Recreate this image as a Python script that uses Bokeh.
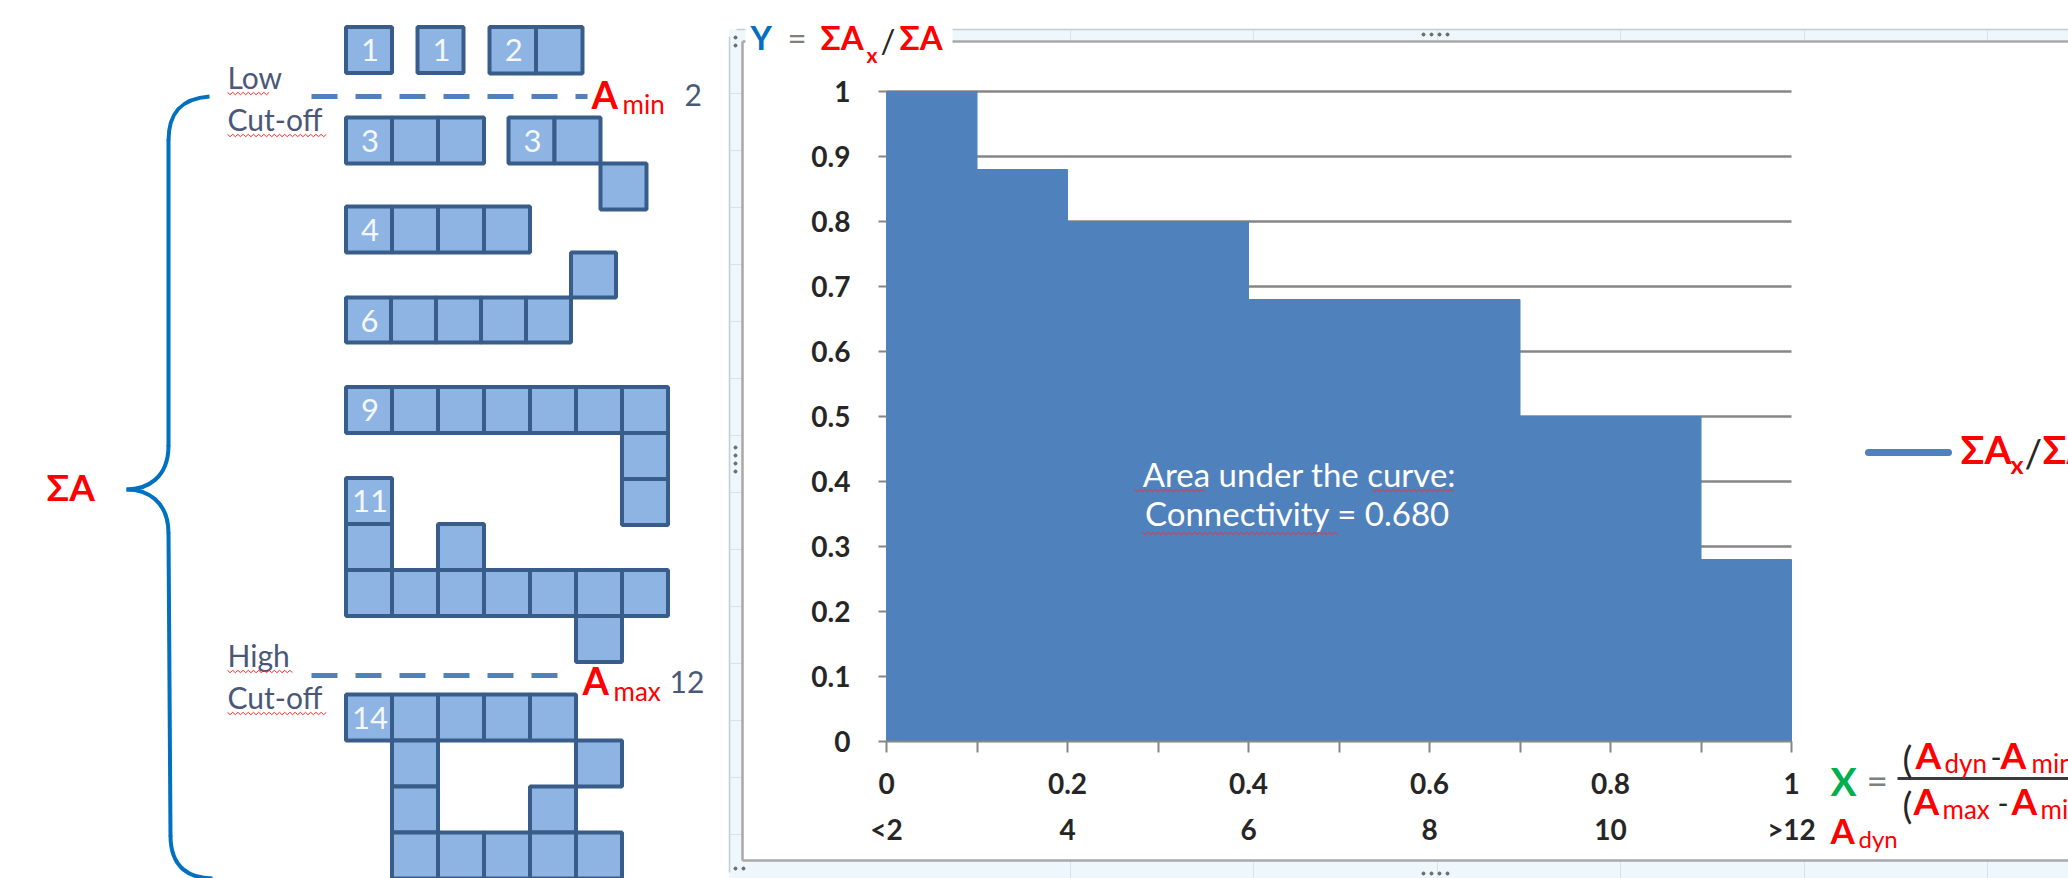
import numpy as np
from bokeh.plotting import figure
from bokeh.models import Range1d, LinearAxis, FixedTicker, NumeralTickFormatter
from bokeh.core.properties import value
from bokeh.embed import file_html
from bokeh.resources import INLINE

# ---------------- chart data ----------------
x_edges = [0.0, 0.1, 0.2, 0.4, 0.7, 0.9, 1.0]          # X = (Adyn-Amin)/(Amax-Amin)
area_ratio = [1.0, 0.88, 0.80, 0.68, 0.50, 0.28]        # Y = sum(Ax)/sum(A)
y_ticks = [0.0, 0.1, 0.2, 0.3, 0.4, 0.5, 0.6, 0.7, 0.8, 0.9, 1.0]
x_ticks = [0.0, 0.2, 0.4, 0.6, 0.8, 1.0]
x_minor = [0.1, 0.3, 0.5, 0.7, 0.9]
x_tick_labels = ["0", "0.2", "0.4", "0.6", "0.8", "1"]
adyn_labels = ["<2", "4", "6", "8", "10", ">12"]
connectivity = 0.680

# ---------------- cluster diagram data ----------------
cluster_sizes = ["1", "1", "2", "3", "3", "4", "6", "9", "11", "14"]
cluster_cells = [
    [(0, 0)],
    [(0, 0)],
    [(0, 0), (1, 0)],
    [(0, 0), (1, 0), (2, 0)],
    [(0, 0), (1, 0), (2, 1)],
    [(0, 0), (1, 0), (2, 0), (3, 0)],
    [(0, 1), (1, 1), (2, 1), (3, 1), (4, 1), (5, 0)],
    [(0, 0), (1, 0), (2, 0), (3, 0), (4, 0), (5, 0), (6, 0), (6, 1), (6, 2)],
    [(0, 0), (0, 1), (2, 1), (0, 2), (1, 2), (2, 2), (3, 2), (4, 2), (5, 2), (6, 2), (5, 3)],
    [(0, 0), (1, 0), (2, 0), (3, 0), (4, 0), (1, 1), (5, 1), (1, 2), (4, 2),
     (1, 3), (2, 3), (3, 3), (4, 3), (5, 3)],
]
# placement of each cluster on the page (px)
cluster_origin_x = [345.5, 417, 489, 345.5, 508, 345.5, 345.5, 345.5, 345.5, 345.5]
cluster_origin_y = [26.5, 26.5, 26.5, 117, 117, 206, 252, 386.5, 477.5, 694]
cluster_cell_px = [46, 46, 46.5, 46, 46, 46, 45, 46, 46, 46]

# ---------------- page geometry ----------------
PAGE_W, PAGE_H = 2068, 878
X0, X1 = 886.0, 1791.0     # page px of x=0 and x=1
Y0, Y1 = 741.0, 91.0       # page px of y=0 and y=1


def dx(px):
    return (np.asarray(px, dtype=float) - X0) / (X1 - X0)


def dy(py):
    return (Y0 - np.asarray(py, dtype=float)) / (Y0 - Y1)


p = figure(width=PAGE_W, height=PAGE_H,
           x_range=Range1d(float(dx(0)), float(dx(PAGE_W))),
           y_range=Range1d(float(dy(PAGE_H)), float(dy(0))),
           x_axis_type=None, y_axis_type=None,
           toolbar_location=None, output_backend="svg",
           min_border=0, outline_line_color=None,
           background_fill_color="white", border_fill_color="white")
p.min_border_left = p.min_border_right = p.min_border_top = p.min_border_bottom = 0

FONT = "Lato"


def putc(x, yc, s, size, color, style="normal", align="left", font=FONT):
    p.text(x=[float(dx(x))], y=[float(dy(yc))], text=[s], text_font=value(font),
           text_font_size="%dpx" % size, text_color=color, text_font_style=style,
           text_align=align, text_baseline="middle")


def put(x, yb, s, size, color, style="normal", align="left", font=FONT):
    # yb = wanted baseline (px); middle of the em box sits ~0.36 em above it
    putc(x, yb - 0.36 * size, s, size, color, style, align, font)


def seg(x0, y0, x1, y1, color, width, dash="solid", cap="butt"):
    p.segment(x0=[float(dx(x0))], y0=[float(dy(y0))], x1=[float(dx(x1))], y1=[float(dy(y1))],
              line_color=color, line_width=width, line_dash=dash, line_cap=cap)


def box(l, t, r, b, fill, line=None, lw=1):
    p.quad(left=[float(dx(l))], right=[float(dx(r))], top=[float(dy(t))], bottom=[float(dy(b))],
           fill_color=fill, line_color=line, line_width=lw)


def wavy(x0, x1, y):
    xs = np.arange(x0, x1 + 0.1, 2.6)
    ys = y + np.where(np.arange(len(xs)) % 2 == 0, -1.2, 1.2)
    p.line(x=dx(xs), y=dy(ys), line_color="#ff2a2a", line_width=1)


# ---------------- Excel chart frame ----------------
BAND = "#eef7fb"
box(729, 29, 2068, 41, BAND)
box(729, 29, 742, 878, BAND)
box(729, 860, 2068, 878, BAND)
for sx in [1070, 1253, 1437, 1620, 1804, 1987]:
    seg(sx, 30, sx, 41, "#d6e4ea", 1)
    seg(sx, 861, sx, 878, "#d6e4ea", 1)
for sy in np.arange(93, 860, 57):
    seg(730, sy, 742, sy, "#d6e4ea", 1)
seg(729, 36, 729, 872, "#c3ced4", 1.5)
seg(736, 29, 2068, 29, "#c3ced4", 1.5)
seg(742, 41, 742, 860, "#a8a8a8", 2.5)
seg(742, 41, 2068, 41, "#a8a8a8", 2.5)
seg(742, 860, 2068, 860, "#a8a8a8", 2.5)
hx = [1423, 1431, 1439, 1447]
p.scatter(x=dx(hx), y=dy([34] * 4), size=3, color="#6a6a6a")
p.scatter(x=dx(hx), y=dy([873] * 4), size=3, color="#6a6a6a")
p.scatter(x=dx([735] * 4), y=dy([447, 455, 463, 471]), size=3, color="#6a6a6a")
p.scatter(x=dx([735, 735]), y=dy([37, 45]), size=3, color="#6a6a6a")
p.scatter(x=dx([735, 743]), y=dy([868, 868]), size=3, color="#6a6a6a")
box(745, 22, 952, 56, "white")

# ---------------- chart ----------------
grid_y = y_ticks[1:]
p.segment(x0=[x_edges[0]] * len(grid_y), x1=[x_edges[-1]] * len(grid_y), y0=grid_y, y1=grid_y,
          line_color="#868686", line_width=2.5)
p.quad(left=x_edges[:-1], right=x_edges[1:], top=area_ratio, bottom=[0] * len(area_ratio),
       fill_color="#4F81BD", line_color="#4F81BD", line_width=1)

AX = "#868686"
LBL = "#262626"
yax = LinearAxis(fixed_location=0, bounds=(0, 1), ticker=FixedTicker(ticks=y_ticks),
                 formatter=NumeralTickFormatter(format="0.[0]"))
yax.axis_line_color = None
yax.major_tick_out = 8
yax.major_tick_in = 0
yax.minor_tick_out = 0
yax.minor_tick_in = 0
yax.major_tick_line_color = AX
yax.major_tick_line_width = 2
yax.major_label_standoff = 28
yax.major_label_text_font = FONT
yax.major_label_text_font_size = "28px"
yax.major_label_text_font_style = "bold"
yax.major_label_text_color = LBL
p.add_layout(yax, "left")

xax = LinearAxis(fixed_location=0, bounds=(0, 1),
                 ticker=FixedTicker(ticks=x_ticks, minor_ticks=x_minor))
xax.major_label_overrides = {t: a + "\n" + b for t, a, b in zip(x_ticks, x_tick_labels, adyn_labels)}
xax.axis_line_color = AX
xax.axis_line_width = 2
xax.major_tick_out = 11
xax.major_tick_in = 0
xax.minor_tick_out = 11
xax.minor_tick_in = 0
xax.major_tick_line_color = AX
xax.major_tick_line_width = 2
xax.minor_tick_line_color = AX
xax.minor_tick_line_width = 2
xax.major_label_standoff = 13
xax.major_label_text_font = FONT
xax.major_label_text_font_size = "28px"
xax.major_label_text_font_style = "bold"
xax.major_label_text_color = LBL
xax.major_label_text_line_height = 1.38
p.add_layout(xax, "below")

# area annotation
put(1299, 485, "Area under the curve:", 33, "white", align="center")
put(1297, 524, "Connectivity = %.3f" % connectivity, 33, "white", align="center")
wavy(1134, 1206, 490)
wavy(1372, 1453, 490)
wavy(1142, 1337, 533)

# title
RED = "#ff0000"
put(750, 48, "Y", 33, "#0070C0", "bold")
put(787, 48, "=", 33, "#7f7f7f")
put(820, 48, "ΣA", 33, RED, "bold")
put(866, 62, "x", 21, RED, "bold")
put(880, 51, "/", 33, LBL)
put(899, 48, "ΣA", 33, RED, "bold")

# legend
seg(1868, 452, 1948, 452, "#4F81BD", 7, cap="round")
put(1960, 463, "ΣA", 39, RED, "bold")
put(2010, 472, "x", 25, RED, "bold")
put(2024, 467, "/", 39, LBL)
put(2042, 463, "ΣA", 39, RED, "bold")

# X formula
put(1830, 795, "X", 39, "#00B050", "bold")
put(1866, 792, "=", 37, "#808080")
seg(1897, 778, 2068, 778, "#3a3a3a", 3)
put(1902, 771, "(", 37, LBL)
put(1915, 767, "A", 37, RED, "bold")
put(1944, 772, "dyn", 26, RED)
put(1990, 767, "-", 30, LBL)
put(2000, 767, "A", 37, RED, "bold")
put(2031, 772, "min)", 26, RED)
put(1902, 817, "(", 37, LBL)
put(1913, 813, "A", 37, RED, "bold")
put(1942, 818, "max", 26, RED)
put(1997, 813, "-", 30, LBL)
put(2011, 813, "A", 37, RED, "bold")
put(2040, 818, "min)", 26, RED)
put(1830, 842, "A", 35, RED, "bold")
put(1858, 847, "dyn", 24, RED)

# ---------------- cluster diagram ----------------
for lab, cells, ox, oy, s in zip(cluster_sizes, cluster_cells, cluster_origin_x,
                                 cluster_origin_y, cluster_cell_px):
    lefts = [ox + c * s for c, r in cells]
    tops = [oy + r * s for c, r in cells]
    p.quad(left=dx(lefts), right=dx([l + s for l in lefts]),
           top=dy(tops), bottom=dy([t + s for t in tops]),
           fill_color="#8EB4E3", line_color="#385D8A", line_width=4)
    putc(lefts[0] + s / 2 + 1, tops[0] + 23, lab, 31, "#f4f7fb", align="center")

# cut-off lines
seg(311, 96, 587, 96, "#4F81BD", 5, dash="26 18")
seg(311, 675, 562, 675, "#4F81BD", 5, dash="26 18")
GREY = "#4a5878"
put(227, 87, "Low", 30, GREY)
put(227, 129, "Cut-off", 30, GREY)
put(227, 665, "High", 30, GREY)
put(227, 707, "Cut-off", 30, GREY)
wavy(227, 270, 93)
wavy(227, 328, 135)
wavy(227, 293, 671)
wavy(227, 328, 713)
put(591, 107, "A", 38, RED, "bold")
put(622, 113, "min", 26, RED)
put(684, 105, "2", 30, GREY)
put(582, 693, "A", 38, RED, "bold")
put(613, 700, "max", 26, RED)
put(669, 692, "12", 30, GREY)

# sum brace
put(46, 499, "ΣA", 37, RED, "bold")
BR = "#0070C0"
p.bezier(x0=dx([209, 168, 126, 170]), y0=dy([96, 445, 489, 835]),
         x1=dx([168, 126, 168, 212]), y1=dy([140, 489, 533, 878]),
         cx0=dx([181, 168, 146, 170]), cy0=dy([98, 478, 489, 868]),
         cx1=dx([168, 146, 168, 190]), cy1=dy([112, 489, 500, 878]),
         line_color=BR, line_width=4)
seg(168, 139, 168, 446, BR, 4)
seg(168, 532, 170, 836, BR, 4)

open("out.html", "w").write(file_html(p, INLINE))
